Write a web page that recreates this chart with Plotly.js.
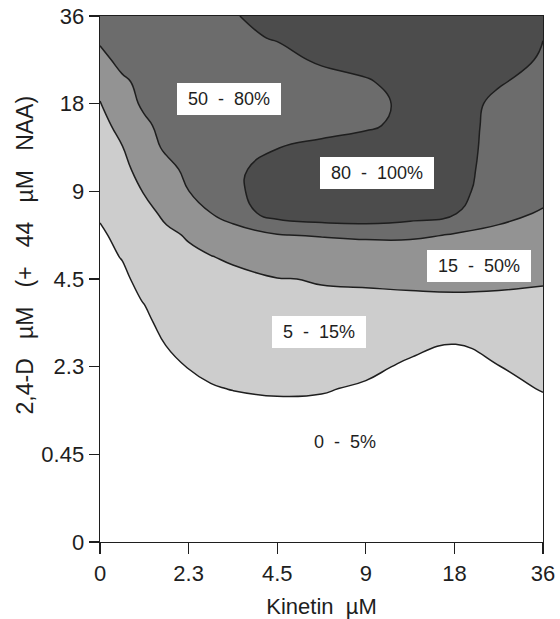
<!DOCTYPE html>
<html>
<head>
<meta charset="utf-8">
<script src="https://cdn.plot.ly/plotly-3.0.1.min.js"></script>
<style>html,body{margin:0;padding:0;background:#fff;}#chart{width:560px;height:619px;}</style>
</head>
<body>
<div id="chart"></div>
<script>
// ---- data ----
const kinetinTicks = ['0', '2.3', '4.5', '9', '18', '36'];          // Kinetin µM (x categories)
const dTicks = ['0', '0.45', '2.3', '4.5', '9', '18', '36'];        // 2,4-D µM (y categories)
// grid positions, in units of category steps
const gridX = [0, 0.25, 0.5, 0.75, 1, 1.25, 1.5, 2, 2.5, 3, 3.5, 4, 4.5, 5];
const gridY = [0, 0.5, 1, 1.5, 1.75, 2, 2.25, 2.5, 2.75, 3, 3.25, 3.5, 3.75, 4, 4.25, 4.5, 4.75, 5, 5.25, 5.5, 5.75, 6];
// estimated response (%) read from the contour map, one row per gridY value
const responsePct = [
  [0, 0, 0, 0, 0, 0, 0, 0.2, 0.3, 0.3, 0.3, 0.5, 0.5, 0.5],
  [0, 0, 0.1, 0.3, 0.5, 0.6, 0.7, 1, 1, 1, 0.8, 1, 1, 1],
  [0, 0.2, 0.4, 0.7, 1, 1.2, 1.5, 2, 2, 2, 1.5, 1.5, 1.5, 1.8],
  [0.3, 0.5, 1, 1.8, 2.5, 3, 3, 3, 3.5, 3.2, 2.5, 2.5, 2.5, 3.5],
  [0.5, 0.8, 1.5, 2.5, 3.6, 4.6, 5.2, 6.1, 5.5, 4.2, 3.2, 3, 3.5, 5.3],
  [0.8, 1.2, 2, 3.5, 5.19, 6.27, 6.5, 7.5, 7, 6.4, 4, 3.8, 4.9, 7],
  [1.2, 1.7, 2.7, 5.13, 7, 7.8, 8, 9, 8.5, 8, 6.5, 4.8, 6.5, 8.5],
  [1.7, 2.3, 3.6, 7, 8.5, 9.2, 9, 10.2, 10, 9.5, 9, 7.3, 9, 10],
  [2.2, 3, 5.27, 8.5, 10, 10.6, 10.2, 11.5, 12.4, 12.75, 13, 12, 12.5, 12],
  [2.8, 3.8, 7, 10, 11.5, 12, 11.44, 14.2, 16, 16.5, 17.2, 19.5, 17.7, 16.4],
  [3.4, 5.23, 8.5, 11.5, 13, 14.5, 17, 30, 18, 18, 22, 30, 25, 24],
  [4.2, 6.5, 10, 13, 15.94, 20.75, 33.75, 48.2, 52.8, 58, 57, 47.3, 35, 34],
  [5.63, 8, 11.8, 17.2, 30, 49.5, 65, 92.3, 100, 100, 92.9, 81.4, 66.25, 45],
  [7, 9.5, 15.6, 25, 49.5, 72, 74, 95, 96, 97, 96, 88, 67, 65.8],
  [8.5, 11.5, 20, 35, 62, 76, 75, 90, 92, 93, 94, 91, 68.1, 67],
  [10, 14.6, 27, 58.4, 72, 76, 75, 79.5, 85, 87, 90, 92, 69.8, 68],
  [12, 17.9, 40, 67, 75, 75, 73, 72, 72.5, 77.8, 84, 93, 70.6, 68.5],
  [14.6, 25, 59.2, 71, 76, 74, 72, 70, 70, 76, 83, 94, 72.8, 68.5],
  [17.9, 40, 66, 73, 76, 74, 73, 71, 74, 78, 88, 95, 82.8, 68.8],
  [32, 67.8, 70, 74, 76, 75, 75, 75, 82.3, 88, 92, 96, 88, 78],
  [60.1, 72, 73, 75, 76, 76, 77, 81, 88, 92, 95, 97, 92, 80.3],
  [68, 75, 76, 76, 77, 77.5, 78.5, 88, 92, 94, 96, 97, 94, 88]
];
const bandEdges = [5, 15, 50, 80];
const bandLabels = ['0 - 5%', '5 - 15%', '15 - 50%', '50 - 80%', '80 - 100%'];
const xTitle = 'Kinetin µM';
const yTitle = '2,4-D µM (+ 44 µM NAA)';

// ---- styles / placement ----
const FONT = 'Liberation Sans, Arial, Helvetica, sans-serif';
const INK = '#1e1e1e';
const bandFills = ['#cdcdcd', '#939393', '#6c6c6c', '#4c4c4c'];
const labelSpots = [[2.76, 1.14], [2.47, 2.39], [4.28, 3.15], [1.46, 5.05], [3.13, 4.21]];

const traces = bandEdges.map((edge, i) => ({
  type: 'contour',
  x: gridX, y: gridY, z: responsePct,
  contours: {type: 'constraint', operation: '<', value: edge},
  fillcolor: bandFills[i],
  line: {color: INK, width: 1.5, smoothing: 1.3},
  showscale: false,
  hoverinfo: 'skip'
}));

const NB = '\u00a0';
const spaced = s => NB + s.replace(/ /g, NB + NB) + NB;

const annotations = bandLabels.map((t, i) => ({
  x: labelSpots[i][0], y: labelSpots[i][1], xref: 'x', yref: 'y',
  text: spaced(t), showarrow: false,
  font: {family: FONT, size: 18, color: INK},
  bgcolor: '#ffffff', borderpad: 6, borderwidth: 0
}));

// vertical axis title, placed as a rotated paper-anchored annotation
annotations.push({
  xref: 'paper', yref: 'paper', x: -0.169, y: 0.545,
  xanchor: 'center', yanchor: 'middle', textangle: -90,
  text: yTitle.replace(/ /g, NB.repeat(3)), showarrow: false,
  font: {family: FONT, size: 23, color: INK}
});

const axisCommon = {
  showline: true, linecolor: INK, linewidth: 1.4, mirror: true,
  ticks: 'outside', tickcolor: INK, tickwidth: 1.4,
  showgrid: false, zeroline: false,
  tickfont: {family: FONT, size: 22, color: INK}
};

const layout = {
  width: 560, height: 619,
  margin: {l: 100, r: 17, t: 16, b: 77},
  paper_bgcolor: '#ffffff', plot_bgcolor: '#ffffff',
  showlegend: false,
  xaxis: Object.assign({}, axisCommon, {
    range: [0, 5], tickvals: kinetinTicks.map((_, i) => i), ticktext: kinetinTicks,
    ticklen: 11,
    title: {text: xTitle.replace(/ /g, NB + NB), font: {family: FONT, size: 22, color: INK}, standoff: 22}
  }),
  yaxis: Object.assign({}, axisCommon, {
    range: [0, 6], tickvals: dTicks.map((_, i) => i), ticktext: dTicks,
    ticklen: 10
  }),
  annotations: annotations
};

Plotly.newPlot('chart', traces, layout, {staticPlot: true, displayModeBar: false});
</script>
</body>
</html>
